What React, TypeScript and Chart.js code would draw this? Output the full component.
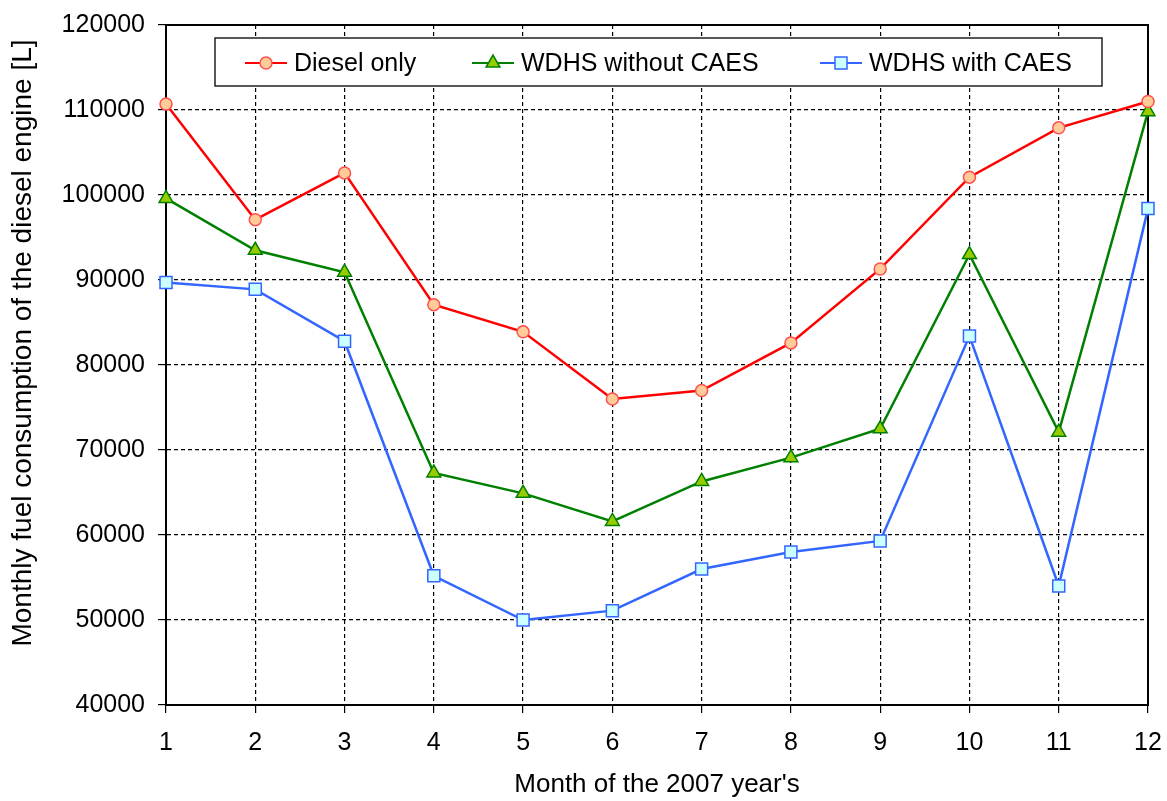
import React, { useEffect, useRef } from "react";
import { Chart, registerables } from "chart.js";

Chart.register(...registerables);

const months = ["1", "2", "3", "4", "5", "6", "7", "8", "9", "10", "11", "12"];
const dieselOnly = [110700, 97100, 102600, 87100, 83900, 76000, 77000, 82600, 91300, 102100, 107900, 111000];
const wdhsWithoutCaes = [99600, 93500, 90900, 67300, 64900, 61600, 66300, 69100, 72500, 93000, 72100, 109800];
const wdhsWithCaes = [89700, 88900, 82800, 55200, 50000, 51100, 56000, 58000, 59300, 83400, 54000, 98400];
const seriesNames = ["Diesel only", "WDHS without CAES", "WDHS with CAES"];
const yTitle = "Monthly fuel consumption of the diesel engine [L]";
const xTitle = "Month of the 2007 year's";

const FONT = "Liberation Sans, Arial, sans-serif";

const styles = [
  { line: "#FF0000", fill: "#FFCC99", border: "#FF5050", shape: "circle", r: 6 },
  { line: "#008000", fill: "#99CC00", border: "#008000", shape: "triangle", r: 8 },
  { line: "#3366FF", fill: "#CCFFFF", border: "#3366FF", shape: "rect", r: 8.5 },
];

function drawMarker(ctx: CanvasRenderingContext2D, shape: string, x: number, y: number, r: number, fill: string, border: string) {
  ctx.save();
  ctx.fillStyle = fill;
  ctx.strokeStyle = border;
  ctx.lineWidth = 1.5;
  ctx.beginPath();
  if (shape === "circle") {
    ctx.arc(x, y, r, 0, Math.PI * 2);
  } else if (shape === "triangle") {
    ctx.moveTo(x, y - r);
    ctx.lineTo(x + r * Math.cos(Math.PI / 6), y + r / 2);
    ctx.lineTo(x - r * Math.cos(Math.PI / 6), y + r / 2);
    ctx.closePath();
  } else {
    const s = r * Math.SQRT1_2;
    ctx.rect(x - s, y - s, 2 * s, 2 * s);
  }
  ctx.fill();
  ctx.stroke();
  ctx.restore();
}

const customPlugin = {
  id: "custom",
  beforeDatasetsDraw(chart: any) {
    const ctx: CanvasRenderingContext2D = chart.ctx;
    const a = chart.chartArea;
    ctx.save();
    ctx.strokeStyle = "#000";
    ctx.lineWidth = 2;
    ctx.strokeRect(a.left, a.top, a.right - a.left, a.bottom - a.top);
    ctx.restore();
  },
  afterDraw(chart: any) {
    const ctx: CanvasRenderingContext2D = chart.ctx;

    // y title
    ctx.save();
    ctx.font = `28px ${FONT}`;
    ctx.fillStyle = "#000";
    ctx.translate(23, 343);
    ctx.rotate(-Math.PI / 2);
    ctx.textAlign = "center";
    ctx.textBaseline = "middle";
    ctx.fillText(yTitle, 0, 0);
    ctx.restore();

    // legend
    ctx.save();
    ctx.fillStyle = "#fff";
    ctx.fillRect(215, 38, 887, 48);
    ctx.strokeStyle = "#222";
    ctx.lineWidth = 1.5;
    ctx.strokeRect(215, 38, 887, 48);
    const cy = 63;
    const lineStarts = [245, 472, 820];
    ctx.font = `25px ${FONT}`;
    ctx.textBaseline = "middle";
    ctx.textAlign = "left";
    seriesNames.forEach((name, i) => {
      const st = styles[i];
      const x0 = lineStarts[i];
      ctx.strokeStyle = st.line;
      ctx.lineWidth = 2;
      ctx.beginPath();
      ctx.moveTo(x0, cy);
      ctx.lineTo(x0 + 42, cy);
      ctx.stroke();
      drawMarker(ctx, st.shape, x0 + 21, cy, st.r, st.fill, st.border);
      ctx.fillStyle = "#000";
      ctx.fillText(name, x0 + 49, cy + 1);
    });
    ctx.restore();
  },
};

export default function App() {
  const ref = useRef<HTMLCanvasElement>(null);
  useEffect(() => {
    document.body.style.margin = "0";
    const seriesData = [dieselOnly, wdhsWithoutCaes, wdhsWithCaes];
    const chart = new Chart(ref.current!, {
      type: "line",
      data: {
        labels: months,
        datasets: seriesData.map((d, i) => ({
          label: seriesNames[i],
          data: d,
          borderColor: styles[i].line,
          borderWidth: 2.5,
          backgroundColor: styles[i].fill,
          pointBackgroundColor: styles[i].fill,
          pointBorderColor: styles[i].border,
          pointBorderWidth: 1.5,
          pointStyle: styles[i].shape as any,
          pointRadius: styles[i].r,
          tension: 0,
          clip: false as any,
        })),
      },
      options: {
        responsive: false,
        animation: false,
        layout: { padding: { top: 25, right: 19, left: 0, bottom: 0 } },
        plugins: {
          legend: { display: false },
          tooltip: { enabled: false },
        },
        scales: {
          x: {
            offset: false,
            grid: {
              color: "#000",
              lineWidth: 1.2,
              tickLength: 8,
              tickColor: "#000",
              tickBorderDash: [],
            } as any,
            border: { display: true, color: "#000", width: 2, dash: [4, 3] },
            ticks: {
              color: "#000",
              font: { family: FONT, size: 25 },
              padding: 15,
              maxRotation: 0,
              autoSkip: false,
            },
            title: {
              display: true,
              text: xTitle,
              color: "#000",
              font: { family: FONT, size: 26 },
              padding: { top: 0, bottom: 1 },
            },
            afterFit: (s: any) => {
              s.height = 96;
              s.paddingLeft = 0;
              s.paddingRight = 0;
            },
          },
          y: {
            min: 40000,
            max: 120000,
            grid: {
              color: "#000",
              lineWidth: 1.2,
              tickLength: 8,
              tickColor: "#000",
              tickBorderDash: [],
            } as any,
            border: { display: true, color: "#000", width: 2, dash: [4, 3] },
            ticks: {
              stepSize: 10000,
              color: "#000",
              font: { family: FONT, size: 25 },
              padding: 13,
              callback: (v: any) => String(v),
            },
            afterFit: (s: any) => {
              s.width = 166;
              s.paddingTop = 0;
              s.paddingBottom = 0;
            },
          },
        },
      },
      plugins: [customPlugin],
    });
    return () => chart.destroy();
  }, []);
  return (
    <div style={{ width: 1167, height: 801 }}>
      <canvas ref={ref} width={1167} height={801} />
    </div>
  );
}
